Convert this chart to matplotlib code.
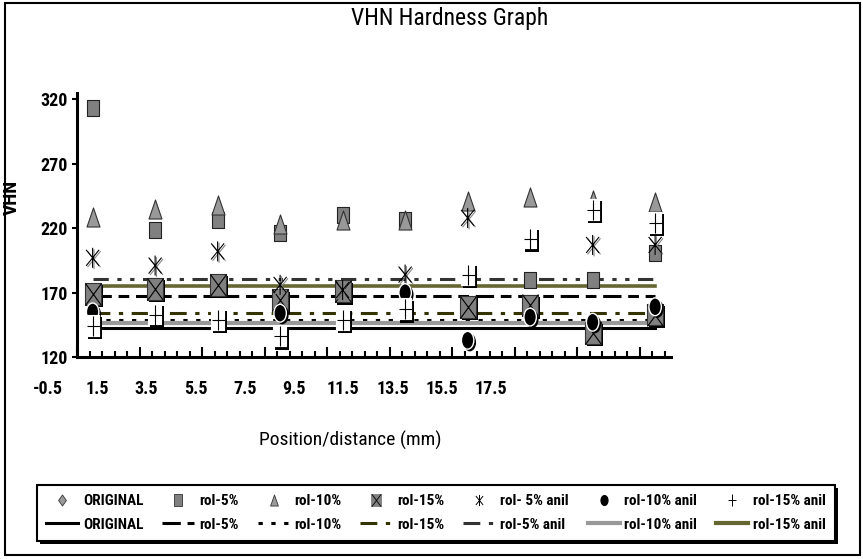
import numpy as np
import matplotlib
matplotlib.use("Agg")
import matplotlib.pyplot as plt
import matplotlib.patheffects as pe
from matplotlib.path import Path
from matplotlib.lines import Line2D
from matplotlib.patches import Rectangle
from matplotlib.legend_handler import HandlerTuple
from matplotlib import font_manager

names = {f.name for f in font_manager.fontManager.ttflist}
cands = ["Liberation Sans Narrow", "Roboto Condensed", "Archivo Narrow", "PT Sans Narrow"]
narrow = next((c for c in cands if c in names), "Liberation Sans")
plt.rcParams["font.family"] = [narrow, "DejaVu Sans"]

nan = np.nan

# positions of the readings (mm) and the axis labels
positions = [-0.5, 1.5, 3.5, 5.5, 7.5, 9.5, 11.5, 13.5, 15.5, 17.5]
tick_labels = ["-0.5", "1.5", "3.5", "5.5", "7.5", "9.5", "11.5", "13.5", "15.5", "17.5"]
y_ticks = [120, 170, 220, 270, 320]

# point readings (nan = not visible in the chart)
rol5 = [313, 219, 226, 216, 230, 226, nan, 180, 180, 201]
rol10 = [229, 235, 238, 223, 226, 226, 241, 244, 242, 240]
rol15 = [169, 173, 176, 164, 171, nan, 159, 160, 139, 153]
rol5_anil = [197, 191, 202, 176, 172, 184, 228, nan, 207, 207]
rol10_anil = [155, nan, nan, 154, nan, 170, 133, 151, 147, 159]
rol15_anil = [144, 153, 149, 136, 149, 157, 184, 212, 234, 224]

# horizontal reference levels
lvl_original = 142.6
lvl_rol5 = 167.3
lvl_rol10 = 148.6
lvl_rol15 = 154.3
lvl_rol5_anil = 180.7
lvl_rol10_anil = 146.5
lvl_rol15_anil = 175.1


def rect(w):
    return Path([(-w, -1), (w, -1), (w, 1), (-w, 1), (-w, -1)], closed=True)


def cross(w):
    return Path([(-w, -1), (w, 1), (-w, 1), (w, -1)],
                [Path.MOVETO, Path.LINETO, Path.MOVETO, Path.LINETO])


def plus(w):
    return Path([(-w, 0), (w, 0), (0, -1), (0, 1)],
                [Path.MOVETO, Path.LINETO, Path.MOVETO, Path.LINETO])


def star(w):
    return Path([(0, -1), (0, 1), (-w, -0.8), (w, 0.8), (-w, 0.8), (w, -0.8)],
                [Path.MOVETO, Path.LINETO, Path.MOVETO, Path.LINETO, Path.MOVETO, Path.LINETO])


def tri(w):
    return Path([(0, 1), (-w, -1), (w, -1), (0, 1)], closed=True)


def diamond(w):
    return Path([(0, 1), (w, 0), (0, -1), (-w, 0), (0, 1)], closed=True)


def ellipse(w):
    uc = Path.unit_circle()
    return Path(uc.vertices * [w, 1], uc.codes)


shadow = [pe.SimplePatchShadow(offset=(1.6, -1.6), shadow_rgbFace="black", alpha=1.0), pe.Normal()]
line_shadow = [pe.SimpleLineShadow(offset=(1, -1), shadow_color="#888888", alpha=1.0), pe.Normal()]

W, H = 863, 559
fig = plt.figure(figsize=(W / 100, H / 100), dpi=100)
ax = fig.add_axes([77 / W, 1 - 357 / H, (670.75 - 77) / W, (357 - 93) / H])

# reference lines
x_span = [positions[0], positions[-1]]
ax.plot(x_span, [lvl_original] * 2, color="black", lw=2.2, zorder=2)
ax.plot(x_span, [lvl_rol5] * 2, color="black", lw=2.2, dashes=(6, 2.2, 3.5, 2.2), zorder=2)
ax.plot(x_span, [lvl_rol10] * 2, color="black", lw=2.2, dashes=(1.4, 2.8), zorder=2)
ax.plot(x_span, [lvl_rol15] * 2, color="#333300", lw=2.2, dashes=(5.5, 2.8, 1.4, 2.8), zorder=2)
ax.plot(x_span, [lvl_rol5_anil] * 2, color="#333333", lw=2.2,
        dashes=(5, 2.8, 1.4, 2.8, 1.4, 2.8), zorder=2)
ax.plot(x_span, [lvl_rol10_anil] * 2, color="#999999", lw=3.0, zorder=2)
ax.plot(x_span, [lvl_rol15_anil] * 2, color="#666633", lw=2.6, zorder=2)

# point series
ax.plot(positions, rol5, ls="none", marker=rect(0.7), ms=12.2, mfc="#808080",
        mec="#222222", mew=0.8, zorder=3)
ax.plot(positions, rol10, ls="none", marker=tri(0.68), ms=13.7, mfc="#999999",
        mec="#333333", mew=0.8, zorder=4)
ax.plot(positions, rol15, ls="none", marker=rect(0.73), ms=15.8, mfc="#808080",
        mec="#333333", mew=0.8, path_effects=shadow, zorder=5)
ax.plot(positions, rol15, ls="none", marker=cross(0.73), ms=15.8, mfc="none",
        mec="black", mew=0.8, zorder=5)
ax.plot(positions, rol5_anil, ls="none", marker=star(0.65), ms=14.4, mfc="none",
        mec="black", mew=0.8, path_effects=line_shadow, zorder=6)
ax.plot(positions, rol10_anil, ls="none", marker=ellipse(0.7), ms=12.8, mfc="black",
        mec="white", mew=1.0, path_effects=shadow, zorder=7)
ax.plot(positions, rol15_anil, ls="none", marker=rect(0.64), ms=15.8, mfc="white",
        mec="white", mew=0.1, path_effects=shadow, zorder=8)
ax.plot(positions, rol15_anil, ls="none", marker=plus(0.65), ms=14.4, mfc="none",
        mec="black", mew=0.8, zorder=8)

ax.set_xlim(-1, 18)
ax.set_ylim(120, 325)
ax.set_xticks(np.arange(-1, 18, 2))
ax.set_xticks(np.arange(-1, 18.1, 0.4), minor=True)
ax.set_yticks(y_ticks)
ax.tick_params(axis="x", which="major", direction="in", length=7, width=1.5, labelbottom=False)
ax.tick_params(axis="x", which="minor", direction="in", length=4.5, width=1.5)
ax.tick_params(axis="y", which="major", direction="out", length=3.5, width=1.5, pad=3,
               labelsize=13)
for t in ax.get_yticklabels():
    t.set_fontweight("bold")
for s in ["top", "right"]:
    ax.spines[s].set_visible(False)
for s in ["left", "bottom"]:
    ax.spines[s].set_linewidth(2.2)

ax.set_ylabel("VHN", fontsize=14, fontweight="bold")
ax.yaxis.set_label_coords(-0.094, 0.604)
ax.set_xlabel("Position/distance (mm)", fontsize=14)
ax.xaxis.set_label_coords(0.46, -0.28)

# tick label row (drawn offset from the plot as in the original)
lab_ax = fig.add_axes([48 / W, 1 - 380 / H, (491 - 48) / W, 0.001])
lab_ax.set_xlim(positions[0], positions[-1])
lab_ax.set_xticks(positions)
lab_ax.set_xticklabels(tick_labels, fontsize=13, fontweight="bold")
lab_ax.tick_params(axis="x", length=0, pad=0)
lab_ax.set_yticks([])
lab_ax.patch.set_visible(False)
for s in lab_ax.spines.values():
    s.set_visible(False)

fig.text(450 / W, 1 - 18 / H, "VHN Hardness Graph", ha="center", va="center", fontsize=17)

# legend
mk = dict(ls="none")
boxx_leg = (Line2D([], [], marker=rect(0.75), ms=9, mfc="#808080", mec="#808080", mew=0.6, **mk),
            Line2D([], [], marker=cross(0.75), ms=9, mfc="none", mec="black", mew=0.6, **mk))
handles = [
    Line2D([], [], marker=diamond(0.7), ms=8, mfc="#999999", mec="#333333", mew=0.6, **mk),
    Line2D([], [], color="black", lw=2.2),
    Line2D([], [], marker=rect(0.7), ms=8, mfc="#808080", mec="#333333", mew=0.6, **mk),
    Line2D([], [], color="black", lw=2.2, dashes=(6, 2.2, 3.5, 2.2)),
    Line2D([], [], marker=tri(0.7), ms=8, mfc="#999999", mec="#333333", mew=0.6, **mk),
    Line2D([], [], color="black", lw=2.2, dashes=(1.4, 2.8)),
    boxx_leg,
    Line2D([], [], color="#333300", lw=2.2, dashes=(5.5, 2.8, 1.4, 2.8)),
    Line2D([], [], marker=star(0.65), ms=8, mfc="none", mec="black", mew=0.7, **mk),
    Line2D([], [], color="#333333", lw=2.2, dashes=(5.5, 2.8, 1.4, 2.8)),
    Line2D([], [], marker=ellipse(0.7), ms=7, mfc="black", mec="black", **mk),
    Line2D([], [], color="#999999", lw=3.0),
    Line2D([], [], marker=plus(0.8), ms=8, mfc="none", mec="black", mew=0.7, **mk),
    Line2D([], [], color="#666633", lw=3.0),
]
labels = ["ORIGINAL", "ORIGINAL", "rol-5%", "rol-5%", "rol-10%", "rol-10%",
          "rol-15%", "rol-15%", "rol- 5% anil", "rol-5% anil", "rol-10% anil",
          "rol-10% anil", "rol-15% anil", "rol-15% anil"]
leg = fig.legend(handles, labels, ncol=7, loc="center", bbox_to_anchor=(436 / W, 1 - 513 / H),
                 prop={"size": 11, "weight": "bold"}, frameon=True, fancybox=False,
                 edgecolor="black", handlelength=2.1, handletextpad=0.3, columnspacing=1.25,
                 borderpad=0.6, labelspacing=0.6,
                 handler_map={tuple: HandlerTuple(ndivide=1)},
                 shadow={"color": "black", "alpha": 1.0, "linewidth": 0})
leg.get_frame().set_linewidth(1.5)

fig.patches.append(Rectangle((5 / W, 1 - 555 / H), (860 - 5) / W, (555 - 3) / H,
                             transform=fig.transFigure, fill=False, lw=1.5, ec="black"))

fig.savefig("out.png", dpi=100)
